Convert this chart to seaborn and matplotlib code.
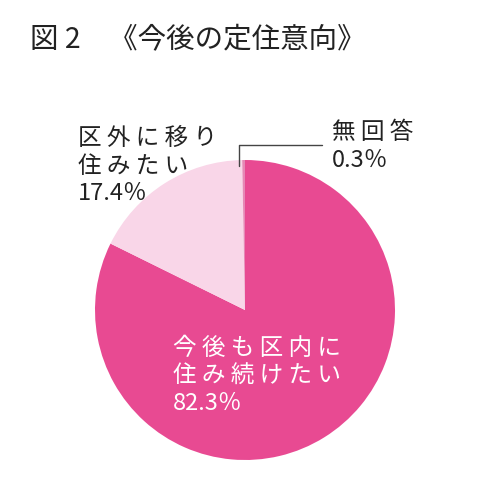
import seaborn as sns
import matplotlib.pyplot as plt

sns.set_theme(style="white")
plt.rcParams['font.family'] = ['Noto Sans CJK JP', 'DejaVu Sans']

# データ（今後の定住意向）
categories = ["今後も区内に住み続けたい", "区外に移り住みたい", "無回答"]
shares = [82.3, 17.4, 0.3]
colors = ["#E84A92", "#F9D6E8", "#E688B5"]

W, H = 480, 490
fig = plt.figure(figsize=(W / 100, H / 100), dpi=100)
fig.patch.set_facecolor("white")

def px(x, y):
    return x / W, 1 - y / H

# 円グラフ（中心 245,310 半径150px）
ax = fig.add_axes([95 / W, (H - 460) / H, 300 / W, 300 / H])
ax.pie(shares, colors=colors, startangle=90, counterclock=False,
       wedgeprops={"linewidth": 0})
ax.set_xlim(-1, 1); ax.set_ylim(-1, 1)
ax.set_aspect("equal")
ax.axis("off")

# タイトル
fig.text(*px(30, 24), "図 2　《今後の定住意向》", fontsize=20.5, color="#222222",
         va="top", ha="left")

def spaced(s):
    return " ".join(s)

# ラベル
fig.text(*px(78, 127), spaced("区外に移り") + "\n" + spaced("住みたい") + "\n" + f"{shares[1]}％",
         fontsize=17, color="#222222", va="top", ha="left", linespacing=1.26)
fig.text(*px(332, 121), spaced("無回答") + "\n" + f"{shares[2]}％",
         fontsize=17, color="#222222", va="top", ha="left", linespacing=1.26)
fig.text(*px(173, 337), spaced("今後も区内に") + "\n" + spaced("住み続けたい") + "\n" + f"{shares[0]}％",
         fontsize=17, color="white", va="top", ha="left", linespacing=1.26)

# 引き出し線
fig.add_artist(plt.Line2D([239 / W, 239 / W, 322 / W],
                          [1 - 166 / H, 1 - 145 / H, 1 - 145 / H],
                          color="#444444", linewidth=1))

fig.savefig("out.png", dpi=100, facecolor="white")
